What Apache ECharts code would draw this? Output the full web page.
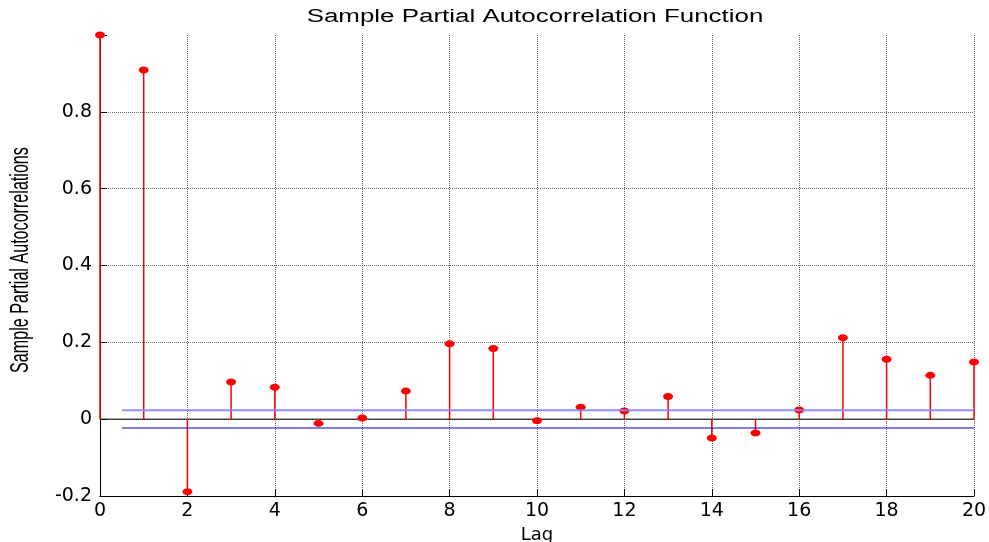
<!DOCTYPE html>
<html>
<head>
    <meta charset="utf-8">
    <script src="https://cdn.jsdelivr.net/npm/echarts@6/dist/echarts.min.js"></script>
    <style>
        html, body { margin: 0; padding: 0; background: #fff; }
        #main { width: 989px; height: 542px; }
    </style>
</head>
<body>
<div id="main"></div>
<script type="text/javascript">
    // lags and sample partial autocorrelations
    var lags = [0, 1, 2, 3, 4, 5, 6, 7, 8, 9, 10, 11, 12, 13, 14, 15, 16, 17, 18, 19, 20];
    var pacf = [1.0, 0.909, -0.189, 0.097, 0.083, -0.011, 0.003, 0.073, 0.196, 0.184, -0.004,
                0.031, 0.021, 0.059, -0.049, -0.036, 0.024, 0.212, 0.156, 0.114, 0.149];
    // confidence bounds (upper, lower) drawn from lag 0.5 to 20
    var boundX = [0.5, 20];
    var bounds = [0.023, -0.023];

    var font = 'DejaVu Sans';
    var stemData = [];
    for (var i = 0; i < lags.length; i++) {
        stemData.push([lags[i], pacf[i]]);
    }

    var myChart = echarts.init(document.getElementById('main'));

    var option = {
        animation: false,
        backgroundColor: '#ffffff',
        // title and y name as graphic text so they can be stretched like the original
        graphic: [
            {
                type: 'text',
                x: 535, y: 8,
                scaleX: 1.44,
                style: {
                    text: 'Sample Partial Autocorrelation Function',
                    font: '18px "Liberation Sans"',
                    fill: '#000',
                    align: 'center',
                    verticalAlign: 'top'
                }
            },
            {
                type: 'text',
                x: 21, y: 260,
                rotation: Math.PI / 2,
                scaleX: 0.62,
                style: {
                    text: 'Sample Partial Autocorrelations',
                    font: '26px "Liberation Sans"',
                    fill: '#000',
                    align: 'center',
                    verticalAlign: 'middle'
                }
            }
        ],
        grid: { left: 100, right: 15, top: 35, bottom: 46, outerBoundsMode: 'none' },
        xAxis: {
            type: 'value',
            min: 0, max: 20, interval: 2,
            name: 'Lag',
            nameLocation: 'middle',
            nameGap: 22,
            nameTextStyle: { fontFamily: font, fontSize: 18, color: '#000', verticalAlign: 'top' },
            axisLine: { onZero: false, lineStyle: { color: '#000', width: 1 } },
            axisTick: { inside: true, length: 7, lineStyle: { color: '#000' } },
            axisLabel: { fontFamily: font, fontSize: 19, color: '#000', margin: 6 },
            splitLine: { show: true, showMinLine: false, lineStyle: { color: '#666', type: [1, 1], width: 1 } }
        },
        yAxis: {
            type: 'value',
            min: -0.2, max: 1, interval: 0.2,
            axisLine: { show: true, onZero: false, lineStyle: { color: '#000', width: 1 } },
            axisTick: { inside: true, length: 7, lineStyle: { color: '#000' } },
            axisLabel: {
                fontFamily: font, fontSize: 19, color: '#000', margin: 8,
                formatter: function (v) {
                    if (Math.abs(v - 1) < 1e-6) return '';
                    if (Math.abs(v) < 1e-6) return '0';
                    return v.toFixed(1);
                }
            },
            splitLine: { show: true, showMinLine: false, showMaxLine: false, lineStyle: { color: '#666', type: [1, 1], width: 1 } }
        },
        series: [
            {
                // zero line
                type: 'line',
                data: [[0, 0], [20, 0]],
                symbol: 'none',
                lineStyle: { color: '#000', width: 1 },
                z: 2
            },
            {
                // stems
                type: 'custom',
                data: stemData,
                renderItem: function (params, api) {
                    var p0 = api.coord([api.value(0), 0]);
                    var p1 = api.coord([api.value(0), api.value(1)]);
                    return {
                        type: 'line',
                        shape: { x1: p0[0], y1: p0[1], x2: p1[0], y2: p1[1] },
                        style: { stroke: '#ff0000', lineWidth: 1.5 }
                    };
                },
                z: 3
            },
            {
                // stem heads
                type: 'scatter',
                data: stemData,
                symbol: 'circle',
                symbolSize: [10, 7],
                itemStyle: { color: '#ff0000', opacity: 1 },
                clip: false,
                z: 4
            },
            {
                // upper bound
                type: 'line',
                data: [[boundX[0], bounds[0]], [boundX[1], bounds[0]]],
                symbol: 'none',
                lineStyle: { color: '#8585f5', width: 2, opacity: 0.9 },
                z: 5
            },
            {
                // lower bound
                type: 'line',
                data: [[boundX[0], bounds[1]], [boundX[1], bounds[1]]],
                symbol: 'none',
                lineStyle: { color: '#0000e0', width: 1.2 },
                z: 5
            }
        ]
    };
    myChart.setOption(option);
</script>
</body>
</html>
